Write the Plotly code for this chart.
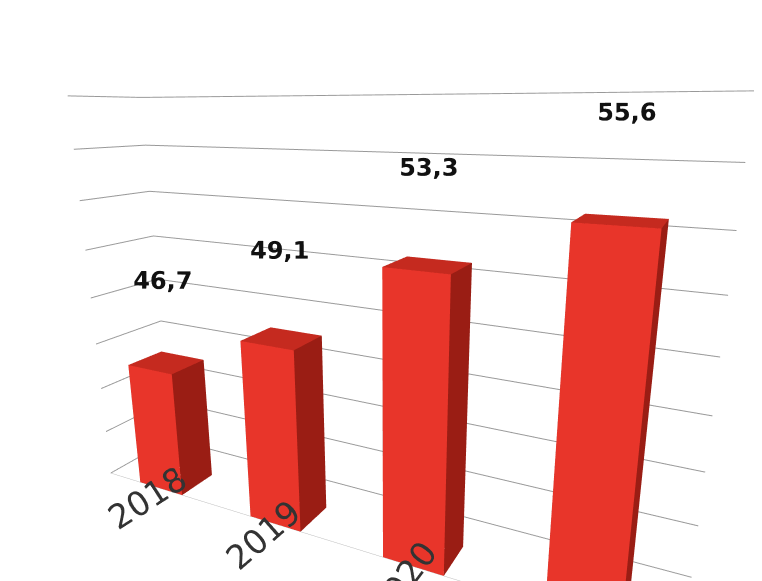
import plotly.graph_objects as go

years = ["2018", "2019", "2020", "2021"]
values = [46.7, 49.1, 53.3, 55.6]
labels = ["46,7", "49,1", "53,3", "55,6"]

base = 40
w = 0.2
d = 0.25

fig = go.Figure()
for i, v in enumerate(values):
    x0, x1 = i - w, i + w
    y0, y1 = 0, d
    xs = [x0, x1, x1, x0, x0, x1, x1, x0]
    ys = [y0, y0, y1, y1, y0, y0, y1, y1]
    zs = [base, base, base, base, v, v, v, v]
    # faces: front, right, top, back, left, bottom
    tri = [(0, 1, 5), (0, 5, 4),
           (1, 2, 6), (1, 6, 5),
           (4, 5, 6), (4, 6, 7),
           (3, 2, 6), (3, 6, 7),
           (0, 3, 7), (0, 7, 4),
           (0, 1, 2), (0, 2, 3)]
    cols = ["#E8352A"] * 2 + ["#9A1D14"] * 2 + ["#C52A1F"] * 2 + ["#9A1D14"] * 6
    fig.add_trace(go.Mesh3d(
        x=xs, y=ys, z=zs,
        i=[t[0] for t in tri], j=[t[1] for t in tri], k=[t[2] for t in tri],
        facecolor=cols, flatshading=True,
        lighting=dict(ambient=1, diffuse=0, specular=0, roughness=1, fresnel=0),
        hoverinfo="skip", showscale=False,
    ))

fig.add_trace(go.Scatter3d(
    x=list(range(len(values))), y=[d / 2] * len(values),
    z=[v + 2.5 for v in values],
    mode="text", text=["<b>%s</b>" % t for t in labels],
    textfont=dict(family="DejaVu Sans", size=24, color="#111111"),
    hoverinfo="skip",
))

axis_common = dict(showbackground=False, showspikes=False, title="",
                   zeroline=False)
fig.update_layout(
    width=762, height=581,
    margin=dict(l=0, r=0, t=0, b=0),
    paper_bgcolor="white",
    showlegend=False,
    scene=dict(
        xaxis=dict(axis_common, range=[-0.5, 3.5], tickvals=list(range(4)),
                   ticktext=years, showgrid=False, showline=True,
                   linecolor="#bbbbbb",
                   tickfont=dict(family="DejaVu Sans", size=20, color="#333333")),
        yaxis=dict(axis_common, range=[0, 0.5], showticklabels=False,
                   showgrid=False),
        zaxis=dict(axis_common, range=[base, 60], dtick=2.5,
                   showticklabels=False, gridcolor="#999999", gridwidth=2),
        aspectmode="manual",
        aspectratio=dict(x=2.2, y=0.35, z=1.5),
        camera=dict(eye=dict(x=1.1, y=-2.0, z=0.7),
                    center=dict(x=0.1, y=0, z=0.1),
                    projection=dict(type="perspective")),
    ),
)

fig.write_html("out.html")
